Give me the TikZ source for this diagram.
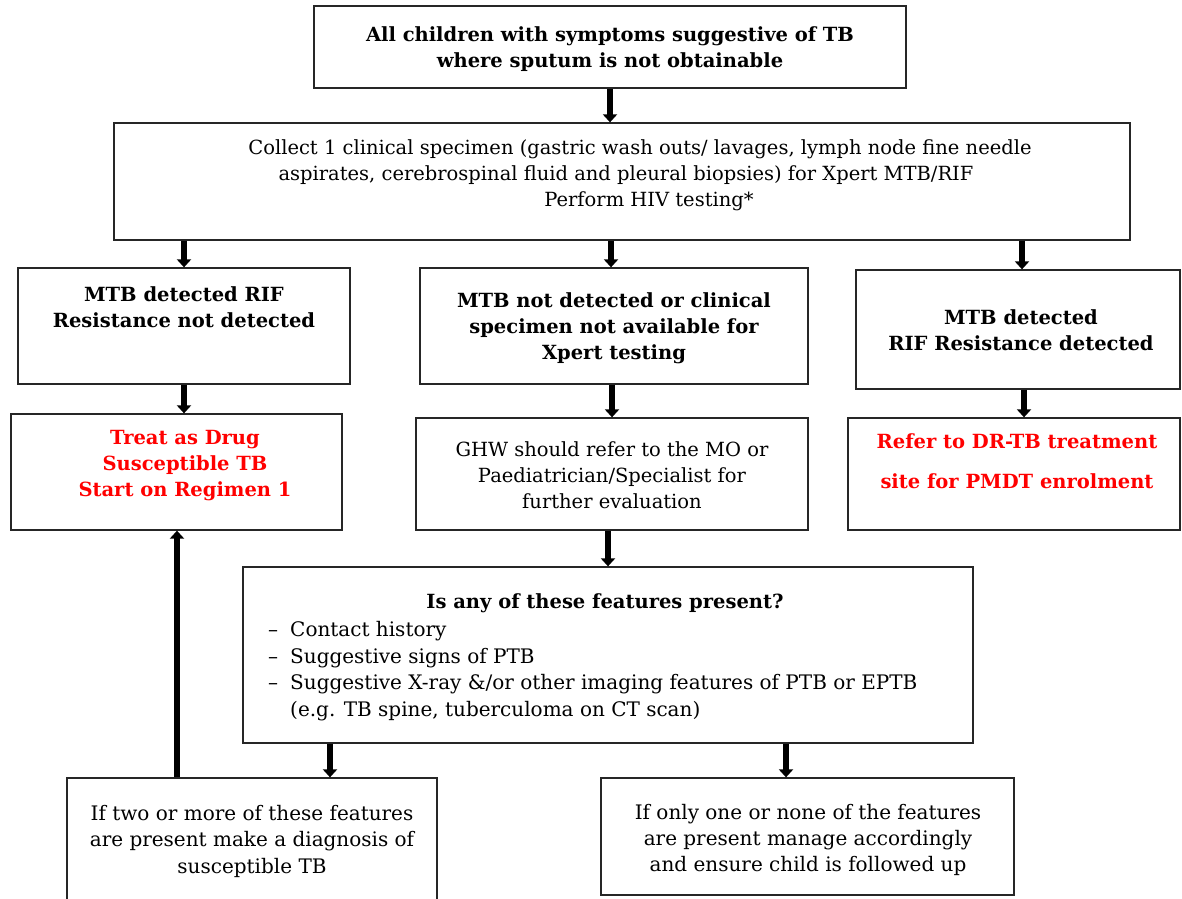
\documentclass[tikz,border=0pt]{standalone}
\usepackage{fontspec}
\setmainfont{DejaVu Serif}
\usetikzlibrary{arrows.meta}
\begin{document}
\begin{tikzpicture}[x=1pt,y=-1pt,
  box/.style={draw=black!85, line width=1.3pt, rectangle, inner sep=0pt},
  txt/.style={align=center, inner sep=0pt, font=\fontsize{19.5}{26}\selectfont},
  btxt/.style={align=center, inner sep=0pt, font=\fontsize{19.5}{26}\selectfont\bfseries},
  rtxt/.style={btxt, text=red},
  arr/.style={line width=5.5pt, -{Triangle[width=14pt,length=8pt]}},
]
\useasboundingbox (0,0) rectangle (1182,898);

% boxes
\node[box, minimum width=592, minimum height=82]  (top)  at (610,47) {};
\node[box, minimum width=1016, minimum height=117] (coll) at (622,181.5) {};
\node[box, minimum width=332, minimum height=116] (neg)  at (184,326) {};
\node[box, minimum width=388, minimum height=116] (nd)   at (614,326) {};
\node[box, minimum width=324, minimum height=119] (res)  at (1018,329.5) {};
\node[box, minimum width=331, minimum height=116] (treat) at (176.5,472) {};
\node[box, minimum width=392, minimum height=112] (ghw)  at (612,474) {};
\node[box, minimum width=332, minimum height=112] (refer) at (1014,474) {};
\node[box, minimum width=730, minimum height=176] (feat) at (608,655) {};
\node[box, minimum width=370, minimum height=128] (two)  at (252,842) {};
\node[box, minimum width=413, minimum height=117] (one)  at (807.5,836.5) {};

% texts
\node[btxt] (ttop) at (610,49) {All children with symptoms suggestive of TB\\where sputum is not obtainable};
\node[txt] (tcoll) at (640,175) {Collect 1 clinical specimen (gastric wash outs/ lavages, lymph node fine needle\\aspirates, cerebrospinal fluid and pleural biopsies) for Xpert MTB/RIF\hspace*{28pt}\null\\\hspace*{18pt}Perform HIV testing*};
\node[btxt] (tneg) at (184,307.5) {MTB detected RIF\\Resistance not detected};
\node[btxt] (tnd) at (614,328) {MTB not detected or clinical\\specimen not available for\\Xpert testing};
\node[btxt] (tres) at (1021,330) {MTB detected\\RIF Resistance detected};
\node[rtxt] (ttreat) at (185,465.5) {Treat as Drug\\Susceptible TB\\Start on Regimen 1};
\node[txt] (tghw) at (612,475) {GHW should refer to the MO or\\Paediatrician/Specialist for\\further evaluation};
\node[rtxt, font=\fontsize{19.5}{40}\selectfont\bfseries] (trefer) at (1017,461) {Refer to DR-TB treatment\\site for PMDT enrolment};
\node[btxt] (tfeat) at (605,603) {Is any of these features present?};
\node[txt, align=left, anchor=west, font=\fontsize{20}{26.5}\selectfont] (tlist) at (268,671)
  {\makebox[22pt][l]{–}Contact history\\
   \makebox[22pt][l]{–}Suggestive signs of PTB\\
   \makebox[22pt][l]{–}Suggestive X-ray \&/or other imaging features of PTB or EPTB\\
   \hspace*{22pt}(e.g. TB spine, tuberculoma on CT scan)};
\node[txt, font=\fontsize{20}{26.5}\selectfont] (ttwo) at (252,841) {If two or more of these features\\are present make a diagnosis of\\susceptible TB};
\node[txt, font=\fontsize{20}{26}\selectfont] (tone) at (808,840) {If only one or none of the features\\are present manage accordingly\\and ensure child is followed up};

% connectors
\draw[arr] (top.south -| 610,0) -- (coll.north -| 610,0);
\draw[arr] (coll.south -| 184,0) -- (neg.north -| 184,0);
\draw[arr] (coll.south -| 611,0) -- (nd.north -| 611,0);
\draw[arr] (coll.south -| 1022,0) -- (res.north -| 1022,0);
\draw[arr] (neg.south -| 184,0) -- (treat.north -| 184,0);
\draw[arr] (nd.south -| 612,0) -- (ghw.north -| 612,0);
\draw[arr] (res.south -| 1024,0) -- (refer.north -| 1024,0);
\draw[arr] (ghw.south -| 608,0) -- (feat.north -| 608,0);
\draw[arr] (feat.south -| 330,0) -- (two.north -| 330,0);
\draw[arr] (feat.south -| 786,0) -- (one.north -| 786,0);
\draw[arr] (two.north -| 177,0) -- (treat.south -| 177,0);
\end{tikzpicture}
\end{document}
